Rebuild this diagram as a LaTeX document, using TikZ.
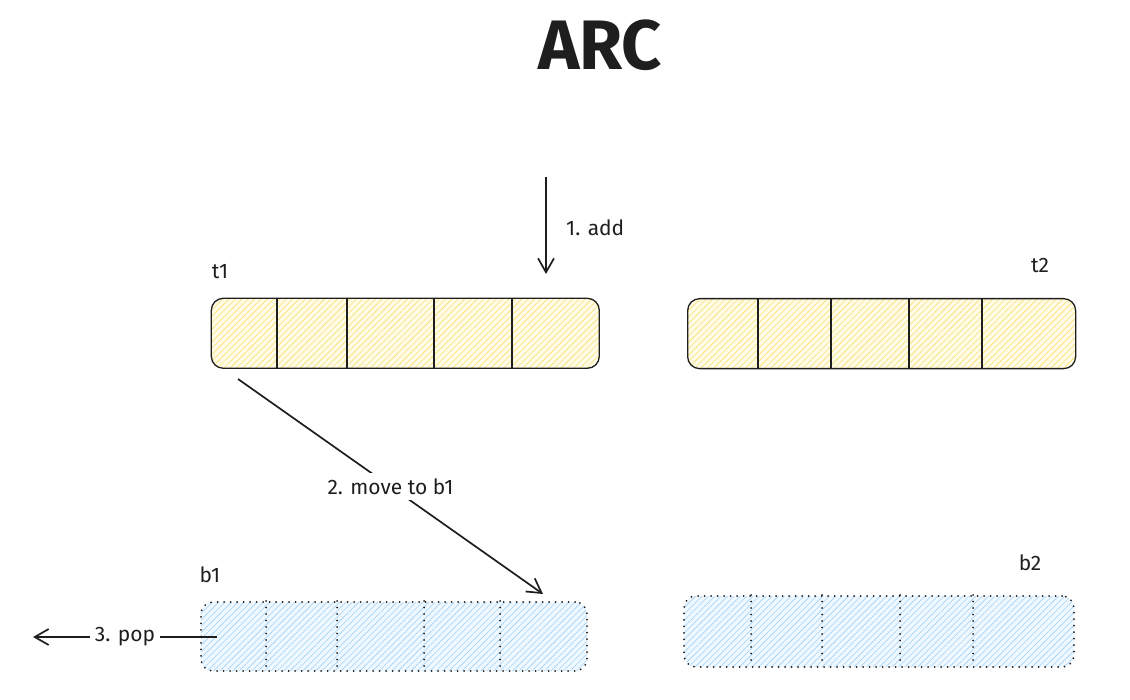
\documentclass[tikz,border=0pt]{standalone}
\usepackage{fontspec}
\setmainfont{Fira Sans}
\usetikzlibrary{arrows.meta,patterns.meta}
\definecolor{ink}{HTML}{1E1E1E}
\definecolor{ylw}{HTML}{F7DF6E}
\definecolor{ylwbg}{HTML}{FFFBE6}
\definecolor{blu}{HTML}{A0D2F8}
\definecolor{blubg}{HTML}{F0F8FF}
\begin{document}
\begin{tikzpicture}[x=1pt,y=-1pt,
  tbox/.style={draw=ink, line width=1.3pt, rounded corners=12pt, anchor=north west,
    inner sep=0pt, minimum height=70pt,
    preaction={fill=ylwbg},
    pattern={Lines[angle=45,distance=4.5pt,line width=0.6pt]}, pattern color=ylw},
  dots/.style={line width=2pt, line cap=round, dash pattern=on 0pt off 6.5pt},
  bbox/.style={draw=ink, dots, rounded corners=12pt, anchor=north west,
    inner sep=0pt, minimum height=70pt,
    preaction={fill=blubg},
    preaction={solid, line width=0.6pt, pattern={Lines[angle=45,distance=4.5pt,line width=0.6pt]}, pattern color=blu}},
  tdiv/.style={draw=ink, line width=1.2pt},
  bdiv/.style={draw=ink, dots},
  lbl/.style={font=\fontsize{21}{21}\selectfont, text=ink, inner sep=2pt},
  arr/.style={draw=ink, line width=1.7pt, -{Straight Barb[length=14pt,width=16pt,line width=1.7pt]}},
  gap/.style={lbl, fill=white, inner sep=5pt}
]
\useasboundingbox (0,0) rectangle (1130,700);

% title
\node[font=\fontsize{70}{70}\selectfont\bfseries, text=ink] (title) at (600,45) {ARC};

% t1
\node[tbox, minimum width=388pt] (t1box) at (211,298) {};
\foreach \x in {277,347,434,512} \draw[tdiv] (\x,298) -- (\x,368);
\node[lbl] (t1lbl) at (220,272) {t1};

% t2
\node[tbox, minimum width=388pt] (t2box) at (687,298) {};
\foreach \x in {758,831,909,982} \draw[tdiv] (\x,298) -- (\x,368);
\node[lbl] (t2lbl) at (1040,265) {t2};

% b1
\node[bbox, minimum width=386pt, minimum height=69pt] (b1box) at (200,601) {};
\foreach \x in {266,337,424,500} \draw[bdiv] (\x,601) -- (\x,670);
\node[lbl] (b1lbl) at (210,575) {b1};

% b2
\node[bbox, minimum width=390pt, minimum height=71pt] (b2box) at (683,595) {};
\foreach \x in {751,822,900,973} \draw[bdiv] (\x,595) -- (\x,666);
\node[lbl] (b2lbl) at (1030,563) {b2};

% arrow 1: add
\coordinate (a1s) at (546,177);
\coordinate (a1e) at (546,274);
\draw[arr] (a1s) -- (a1e);
\node[lbl, anchor=west] (addlbl) at (564,228) {1. add};

% arrow 2: move to b1
\coordinate (a2s) at (238,379);
\coordinate (a2e) at (543,594);
\draw[arr] (a2s) -- node[gap] (movelbl) {2. move to b1} (a2e);

% arrow 3: pop
\coordinate (a3s) at (217,637);
\coordinate (a3e) at (33,637);
\draw[arr] (a3s) -- node[gap, pos=0.5] (poplbl) {3. pop} (a3e);
\end{tikzpicture}
\end{document}
